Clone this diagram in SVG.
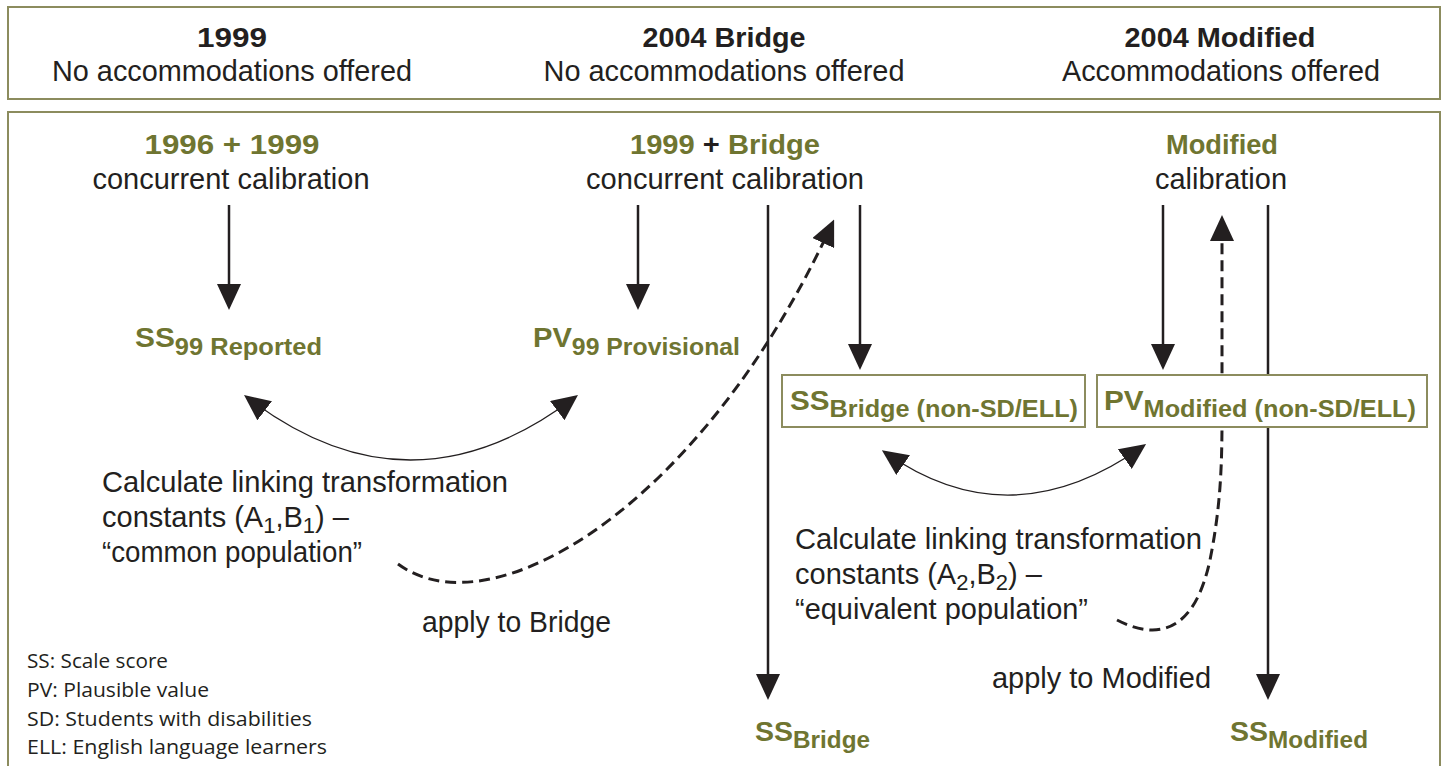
<svg xmlns="http://www.w3.org/2000/svg" width="1448" height="766" viewBox="0 0 1448 766">
<defs>
<style>
.frame{fill:#fff;stroke:#8c8c5e;stroke-width:2}
.rg{font-family:"Liberation Sans",Arial,sans-serif;font-size:29px;fill:#231f20}
.bd{font-family:"Liberation Sans",Arial,sans-serif;font-size:27px;font-weight:bold;fill:#231f20}
.ol{font-family:"Liberation Sans",Arial,sans-serif;font-size:27px;font-weight:bold;fill:#6f7531}
.blk{fill:#231f20}
.leg{font-family:"Open Sans","Noto Sans",sans-serif;font-size:20px;fill:#231f20}
.ln{fill:none;stroke:#231f20;stroke-width:2.5}
.thin{fill:none;stroke:#231f20;stroke-width:1.3}
.dash{fill:none;stroke:#231f20;stroke-width:3;stroke-dasharray:11 6}
</style>
<marker id="ah" markerUnits="userSpaceOnUse" markerWidth="26" markerHeight="24" viewBox="0 0 26 24" refX="21" refY="12" orient="auto-start-reverse">
<path d="M0,0 L26,12 L0,24 z" fill="#231f20"/>
</marker>
</defs>
<rect class="frame" x="8" y="7" width="1432" height="92"/>
<rect class="frame" x="8" y="112" width="1432" height="700"/>
<g id="header">
<text class="bd" x="232" y="47" text-anchor="middle" textLength="70" lengthAdjust="spacingAndGlyphs">1999</text>
<text class="rg" x="232" y="81" text-anchor="middle" textLength="360" lengthAdjust="spacingAndGlyphs">No accommodations offered</text>
<text class="bd" x="724" y="47" text-anchor="middle" textLength="163" lengthAdjust="spacingAndGlyphs">2004 Bridge</text>
<text class="rg" x="724" y="81" text-anchor="middle" textLength="361" lengthAdjust="spacingAndGlyphs">No accommodations offered</text>
<text class="bd" x="1220" y="47" text-anchor="middle" textLength="191" lengthAdjust="spacingAndGlyphs">2004 Modified</text>
<text class="rg" x="1221" y="81" text-anchor="middle" textLength="318" lengthAdjust="spacingAndGlyphs">Accommodations offered</text>
</g>
<g id="connectors">
<line class="ln" x1="229" y1="205" x2="229" y2="305" marker-end="url(#ah)"/>
<line class="ln" x1="638" y1="205" x2="638" y2="305" marker-end="url(#ah)"/>
<line class="ln" x1="768" y1="205" x2="768" y2="695" marker-end="url(#ah)"/>
<line class="ln" x1="860" y1="205" x2="860" y2="365" marker-end="url(#ah)"/>
<line class="ln" x1="1163" y1="205" x2="1163" y2="365" marker-end="url(#ah)"/>
<line class="ln" x1="1268" y1="205" x2="1268" y2="695" marker-end="url(#ah)"/>
<path class="thin" d="M248,398 Q410,522 574,398" marker-start="url(#ah)" marker-end="url(#ah)"/>
<path class="thin" d="M886,453 Q1010,540 1142,447" marker-start="url(#ah)" marker-end="url(#ah)"/>
<path class="dash" d="M398,564 C490,632 700,510 832,224" marker-end="url(#ah)"/>
<path class="dash" d="M1117,620 C1160,642 1195,630 1210,560 C1220,510 1222,470 1222,420 L1222,220" marker-end="url(#ah)"/>
</g>
<g id="col1">
<text class="ol" x="232" y="154" text-anchor="middle" textLength="175" lengthAdjust="spacingAndGlyphs">1996 + 1999</text>
<text class="rg" x="231" y="189" text-anchor="middle" textLength="277" lengthAdjust="spacingAndGlyphs">concurrent calibration</text>
</g>
<g id="ss99">
<text class="ol" x="135" y="347" font-size="28" textLength="187" lengthAdjust="spacingAndGlyphs">SS<tspan font-size="23" dy="8">99 Reported</tspan></text>
</g>
<g id="col2">
<text class="ol" x="725" y="154" text-anchor="middle" textLength="190" lengthAdjust="spacingAndGlyphs">1999 <tspan class="blk">+</tspan> Bridge</text>
<text class="rg" x="725" y="189" text-anchor="middle" textLength="278" lengthAdjust="spacingAndGlyphs">concurrent calibration</text>
</g>
<g id="pv99">
<text class="ol" x="533" y="347" font-size="28" textLength="207" lengthAdjust="spacingAndGlyphs">PV<tspan font-size="23" dy="8">99 Provisional</tspan></text>
</g>
<g id="col3">
<text class="ol" x="1222" y="154" text-anchor="middle" textLength="112" lengthAdjust="spacingAndGlyphs">Modified</text>
<text class="rg" x="1221" y="189" text-anchor="middle" textLength="132" lengthAdjust="spacingAndGlyphs">calibration</text>
</g>
<g id="ssbridge-nonsd">
<rect class="frame" x="782" y="375" width="303" height="52"/>
<text class="ol" x="790" y="410" font-size="28" textLength="288" lengthAdjust="spacingAndGlyphs">SS<tspan font-size="23" dy="7">Bridge (non-SD/ELL)</tspan></text>
</g>
<g id="pvmodified-nonsd">
<rect class="frame" x="1097" y="375" width="330" height="52"/>
<text class="ol" x="1104" y="410" font-size="28" textLength="312" lengthAdjust="spacingAndGlyphs">PV<tspan font-size="23" dy="7">Modified (non-SD/ELL)</tspan></text>
</g>
<g id="link1">
<text class="rg" x="102" y="492" textLength="406" lengthAdjust="spacingAndGlyphs">Calculate linking transformation</text>
<text class="rg" x="102" y="527">constants (A<tspan font-size="22" dy="6">1</tspan><tspan dy="-6">,B</tspan><tspan font-size="22" dy="6">1</tspan><tspan dy="-6">) –</tspan></text>
<text class="rg" x="102" y="562" textLength="260" lengthAdjust="spacingAndGlyphs">“common population”</text>
</g>
<g id="apply1">
<text class="rg" x="422" y="632" textLength="189" lengthAdjust="spacingAndGlyphs">apply to Bridge</text>
</g>
<g id="link2">
<text class="rg" x="795" y="549" textLength="407" lengthAdjust="spacingAndGlyphs">Calculate linking transformation</text>
<text class="rg" x="795" y="584">constants (A<tspan font-size="22" dy="6">2</tspan><tspan dy="-6">,B</tspan><tspan font-size="22" dy="6">2</tspan><tspan dy="-6">) –</tspan></text>
<text class="rg" x="795" y="619" textLength="293" lengthAdjust="spacingAndGlyphs">“equivalent population”</text>
</g>
<g id="apply2">
<text class="rg" x="992" y="688" textLength="219" lengthAdjust="spacingAndGlyphs">apply to Modified</text>
</g>
<g id="ssbridge">
<text class="ol" x="755" y="741" font-size="28" textLength="115" lengthAdjust="spacingAndGlyphs">SS<tspan font-size="23" dy="7">Bridge</tspan></text>
</g>
<g id="ssmodified">
<text class="ol" x="1230" y="741" font-size="28" textLength="138" lengthAdjust="spacingAndGlyphs">SS<tspan font-size="23" dy="7">Modified</tspan></text>
</g>
<g id="legend">
<text class="leg" x="27" y="668" textLength="141" lengthAdjust="spacingAndGlyphs">SS: Scale score</text>
<text class="leg" x="27" y="697" textLength="182" lengthAdjust="spacingAndGlyphs">PV: Plausible value</text>
<text class="leg" x="27" y="726" textLength="285" lengthAdjust="spacingAndGlyphs">SD: Students with disabilities</text>
<text class="leg" x="27" y="754" textLength="300" lengthAdjust="spacingAndGlyphs">ELL: English language learners</text>
</g>
</svg>
